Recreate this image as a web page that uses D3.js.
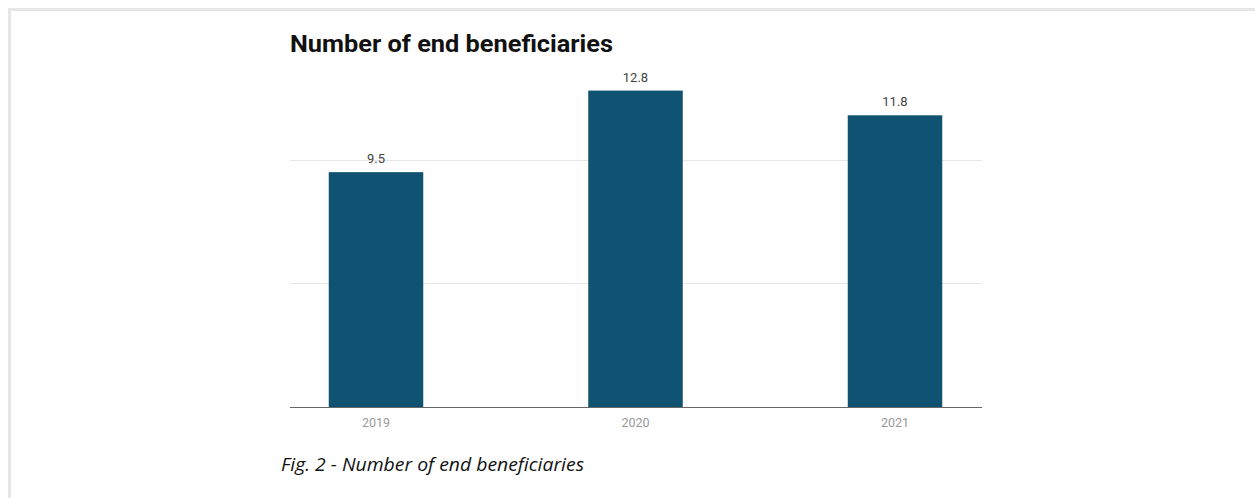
<!DOCTYPE html>
<html><head><meta charset="utf-8">
<script src="https://cdn.jsdelivr.net/npm/d3@7"></script>
<style>body{margin:0;background:#fff;}svg{display:block;}</style>
</head><body>
<script>
const categories = ["2019", "2020", "2021"];
const values = [9.5, 12.8, 11.8];
const gridTicks = [5, 10];
const title = "Number of end beneficiaries";
const caption = "Fig. 2 - Number of end beneficiaries";

const W = 1255, H = 498;
const svg = d3.select("body").append("svg").attr("width", W).attr("height", H);

// frame
svg.append("rect").attr("x", 8).attr("y", 8).attr("width", W).attr("height", 3).attr("fill", "#e6e6e6");
svg.append("rect").attr("x", 8).attr("y", 8).attr("width", 3).attr("height", H).attr("fill", "#e6e6e6");

const left = 290, right = 982, base = 407;
const y = d3.scaleLinear().domain([0, 15]).range([base, base - 15 * 24.72]);
const step = 259.5;
const x = d3.scaleBand().domain(categories)
  .range([376 - step / 2, 376 + step * 2.5]).paddingInner(1 - 94.5 / step).paddingOuter((1 - 94.5 / step) / 2);

// gridlines
svg.append("g").selectAll("line").data(gridTicks).join("line")
  .attr("x1", left).attr("x2", right)
  .attr("y1", d => Math.round(y(d)) + 0.5).attr("y2", d => Math.round(y(d)) + 0.5)
  .attr("stroke", "#e6e6e6").attr("stroke-width", 1);

// bars
svg.append("g").selectAll("rect").data(values).join("rect")
  .attr("x", (d, i) => x(categories[i]))
  .attr("y", d => y(d))
  .attr("width", x.bandwidth())
  .attr("height", d => base - y(d))
  .attr("fill", "#0f5272");

// value labels
svg.append("g").selectAll("text").data(values).join("text")
  .attr("x", (d, i) => x(categories[i]) + x.bandwidth() / 2)
  .attr("y", d => y(d) - 9)
  .attr("text-anchor", "middle")
  .attr("font-family", "Roboto, sans-serif").attr("font-size", 13)
  .attr("fill", "#444")
  .text(d => d.toFixed(1));

// x axis
const xa = svg.append("g").attr("transform", `translate(0,${base})`)
  .call(d3.axisBottom(x).tickSize(0).tickPadding(0));
xa.select(".domain").remove();
xa.selectAll("text").attr("font-family", "Roboto, sans-serif").attr("font-size", 12.5)
  .attr("fill", "#999").attr("dy", null).attr("y", 20);
svg.append("line").attr("x1", left).attr("x2", right).attr("y1", base + 0.5).attr("y2", base + 0.5)
  .attr("stroke", "#666").attr("stroke-width", 1.2);

// title
svg.append("text").attr("x", 290).attr("y", 52)
  .attr("font-family", "Roboto, sans-serif").attr("font-weight", "bold").attr("font-size", 24.5)
  .attr("fill", "#111").attr("textLength", 323).attr("lengthAdjust", "spacingAndGlyphs").text(title);

// caption
svg.append("text").attr("x", 281).attr("y", 471)
  .attr("font-family", "'Open Sans', sans-serif").attr("font-style", "italic").attr("font-size", 17.5)
  .attr("fill", "#111").attr("textLength", 303).attr("lengthAdjust", "spacingAndGlyphs")
  .text(caption);
</script>
</body></html>
